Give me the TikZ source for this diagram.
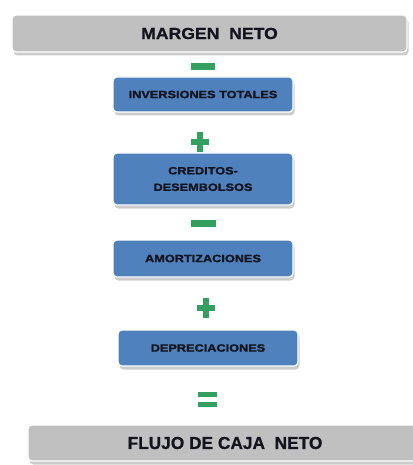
\documentclass[tikz,border=0pt]{standalone}
\usepackage{fontspec}
\setmainfont{Liberation Sans}
\newfontfamily\heavyfont[FakeStretch=1.2, BoldFeatures={FakeBold=1.5}]{Liberation Sans}
\newfontfamily\titlefont[FakeStretch=1.1, BoldFeatures={FakeBold=0.8}]{Liberation Sans}
\newfontfamily\footfont[BoldFeatures={FakeBold=0.8}]{Liberation Sans}
\definecolor{boxblue}{RGB}{79,129,189}
\definecolor{boxgray}{RGB}{192,192,192}
\definecolor{signgreen}{RGB}{52,160,96}
\definecolor{shadowgray}{RGB}{150,150,150}
\definecolor{txt}{RGB}{20,20,30}
\begin{document}
\begin{tikzpicture}[x=1pt,y=-1pt,
  basebox/.style={rectangle, rounded corners=4pt, draw=white, line width=1.2pt, text=txt, align=center, inner sep=0pt,
    preaction={fill=shadowgray!60, opacity=0.8, transform canvas={shift={(1.5pt,-3.5pt)}}}},
  graybox/.style={basebox, fill=boxgray, font=\titlefont\bfseries\fontsize{16}{18}\selectfont},
  bluebox/.style={basebox, fill=boxblue, minimum width=180pt, font=\heavyfont\bfseries\fontsize{10.6}{16.5}\selectfont},
  sign/.style={fill=signgreen}
]
\useasboundingbox (0,0) rectangle (412,465);
\fill[white] (0,0) rectangle (412,465);

\node[graybox, minimum width=395pt, minimum height=37pt] (top) at (209.5,33.5) {MARGEN\ \ NETO};
\node[bluebox, minimum height=35pt] (inv) at (203,94.5) {INVERSIONES TOTALES};
\node[bluebox, minimum height=52pt] (cred) at (203,179) {CREDITOS-\\DESEMBOLSOS};
\node[bluebox, minimum height=37pt] (amo) at (203,258.5) {AMORTIZACIONES};
\node[bluebox, minimum height=36pt] (dep) at (208,348) {DEPRECIACIONES};
\node[graybox, minimum width=392pt, minimum height=36pt] (flujo) at (224,443) {};
\node[text=txt, font=\footfont\bfseries\fontsize{17.3}{18}\selectfont] (flujotxt) at (225,443) {FLUJO DE CAJA\ \ NETO};

% signs
\fill[sign] (191,63) rectangle (215,70);
\fill[sign] (191,139) rectangle (209,145);
\fill[sign] (197,132) rectangle (203,152);
\fill[sign] (191,220) rectangle (216,227);
\fill[sign] (197,305) rectangle (215,311);
\fill[sign] (203,298) rectangle (209,318);
\fill[sign] (198,392) rectangle (217,397);
\fill[sign] (198,402) rectangle (217,407);
\end{tikzpicture}
\end{document}
